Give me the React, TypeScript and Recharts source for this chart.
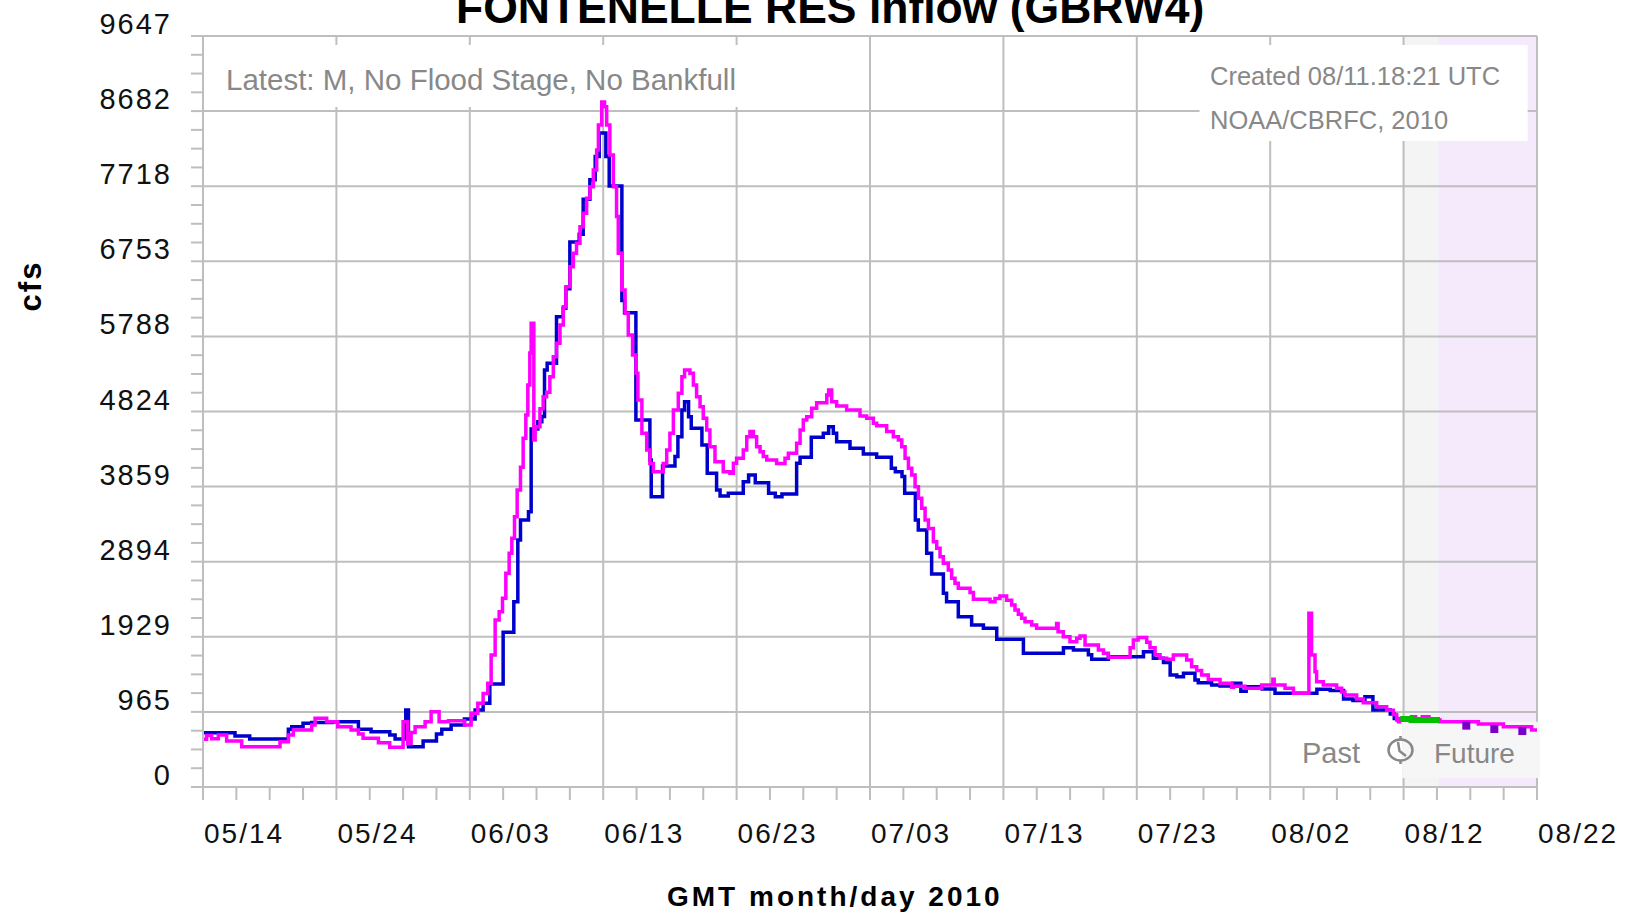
import React from 'react'
import { ComposedChart, Line, XAxis, YAxis, ReferenceArea, ReferenceLine } from 'recharts'

const W = 1625, H = 912
const gr = '#bebebe', ink = '#111', note = '#888', blue = '#0000cc', mag = '#ff00ff'
const font = "'Liberation Sans', Arial, Helvetica, sans-serif"
const margin = { top: 36, right: 88, bottom: 45, left: 63 }

// x = days since 05/14/2010 (GMT), y = inflow in cfs
const xTickLabels = ['05/14', '05/24', '06/03', '06/13', '06/23', '07/03', '07/13', '07/23', '08/02', '08/12', '08/22']
const yTickLabels = ['0', '965', '1929', '2894', '3859', '4824', '5788', '6753', '7718', '8682', '9647']
const Y_MAX = 9647
const X_MAX = 100
const NOW_DAY = 89.9      // past / future split
const FUTURE_DAY = 92.6   // start of the lavender forecast band

const observed: [number, number][] = [
  [0, 698], [2.4, 655], [3.5, 617], [6.4, 741], [6.65, 775], [7.5, 818], [8.15, 830], [9.7, 839],
  [11.65, 741], [12.6, 711], [14.0, 668], [14.4, 617], [15.2, 989], [15.4, 518], [16.5, 591],
  [17.5, 680], [17.9, 741], [18.6, 796], [19.6, 875], [20.4, 990], [21.0, 1075], [21.5, 1323],
  [22.5, 1987], [23.3, 2380], [23.6, 3173], [23.8, 3430], [24.4, 3537], [24.6, 4600], [25.1, 4693],
  [25.4, 4758], [25.6, 5357], [25.8, 5443], [26.5, 6042], [27.0, 6150], [27.2, 6400], [27.5, 7000],
  [28.2, 7100], [28.5, 7550], [29.0, 7800], [29.4, 8100], [29.7, 8400], [30.2, 8100], [30.45, 7720],
  [31.4, 6250], [31.6, 6093], [32.45, 4714], [33.5, 4200], [33.6, 3729], [34.45, 4124], [35.38, 4244],
  [35.6, 4500], [35.9, 4843], [36.1, 4950], [36.4, 4757], [36.6, 4607], [37.4, 4393], [37.8, 4029],
  [38.5, 3815], [38.76, 3738], [39.38, 3773], [40.5, 3922], [40.9, 4008], [41.4, 3909], [42.4, 3773],
  [42.9, 3730], [43.4, 3763], [44.5, 4158], [44.76, 4235], [45.6, 4492], [46.5, 4543], [46.9, 4629],
  [47.25, 4543], [47.5, 4436], [48.5, 4351], [49.5, 4278], [50.5, 4235], [51.6, 4094], [51.9, 4051],
  [52.4, 3990], [52.6, 3773], [53.4, 3430], [53.62, 3301], [54.25, 3002], [54.62, 2736], [55.5, 2488],
  [55.74, 2381], [56.62, 2188], [57.62, 2081], [58.5, 2038], [59.5, 1897], [61.5, 1717], [64.5, 1790],
  [65.25, 1760], [66.37, 1700], [66.62, 1640], [67.87, 1674], [70.5, 1738], [71.24, 1653], [72.0, 1598],
  [72.5, 1439], [73.0, 1417], [73.5, 1460], [74.36, 1375], [74.61, 1340], [75.61, 1310], [76.24, 1297],
  [77.2, 1332], [77.8, 1230], [78.2, 1289], [79.4, 1260], [80.36, 1203], [82.7, 1203], [83.5, 1255],
  [84.5, 1240], [85.5, 1130], [86.2, 1110], [87.1, 1160], [87.7, 989], [89.0, 938], [89.3, 880], [89.6, 880],
]

const simulated: [number, number][] = [
  [0, 612], [0.27, 660], [0.65, 620], [1.15, 668], [1.77, 591], [2.9, 518], [5.77, 582], [6.4, 668],
  [6.77, 732], [8.15, 796], [8.4, 882], [9.27, 839], [10.1, 775], [11.1, 732], [11.65, 680], [12.0, 625],
  [13.15, 570], [14.0, 510], [15.0, 839], [15.35, 560], [15.6, 700], [15.9, 775], [16.65, 839],
  [17.1, 968], [17.7, 839], [18.4, 852], [19.6, 796], [20.1, 946], [20.6, 1075], [21.0, 1200],
  [21.35, 1332], [21.6, 1696], [21.9, 2145], [22.2, 2252], [22.45, 2424], [22.7, 2745], [22.95, 3002],
  [23.15, 3195], [23.35, 3473], [23.55, 3815], [23.8, 4107], [24.0, 4479], [24.2, 4779], [24.35, 5164],
  [24.5, 5575], [24.6, 5957], [24.8, 4458], [24.9, 4629], [25.26, 4860], [25.5, 5014], [25.76, 5070],
  [26.0, 5271], [26.26, 5528], [26.5, 5700], [26.76, 5935], [27.01, 6170], [27.2, 6427], [27.51, 6684],
  [27.76, 6855], [28.0, 6985], [28.26, 7198], [28.51, 7370], [28.76, 7563], [29.0, 7712], [29.26, 7926],
  [29.51, 8183], [29.64, 8504], [29.89, 8800], [30.1, 8739], [30.26, 8504], [30.5, 8119], [30.76, 7712],
  [31.0, 7327], [31.13, 6855], [31.39, 6384], [31.64, 6085], [31.88, 5806], [32.2, 5550], [32.46, 5314],
  [32.6, 4971], [32.9, 4543], [33.26, 4329], [33.5, 4157], [33.76, 4051], [34.5, 4157], [34.76, 4329],
  [35.0, 4543], [35.26, 4843], [35.63, 5057], [35.9, 5271], [36.1, 5357], [36.5, 5314], [36.76, 5164],
  [37.0, 5014], [37.26, 4886], [37.5, 4736], [37.76, 4586], [38.0, 4372], [38.38, 4179], [39.0, 4051],
  [39.5, 4029], [39.76, 4158], [40.0, 4222], [40.5, 4329], [40.76, 4500], [41.0, 4565], [41.26, 4500],
  [41.5, 4372], [41.76, 4308], [42.0, 4244], [42.26, 4200], [43.0, 4157], [43.63, 4222], [43.88, 4286],
  [44.5, 4415], [44.76, 4586], [45.0, 4714], [45.26, 4757], [45.63, 4864], [46.0, 4937], [46.76, 5036],
  [46.9, 5100], [47.13, 4950], [47.5, 4894], [48.25, 4843], [49.25, 4766], [49.75, 4736], [50.25, 4672],
  [50.5, 4640], [51.25, 4565], [51.75, 4500], [52.13, 4457], [52.38, 4372], [52.63, 4222], [52.88, 4094],
  [53.13, 4008], [53.38, 3858], [53.63, 3708], [53.88, 3580], [54.13, 3430], [54.38, 3322], [54.75, 3151],
  [55.0, 3066], [55.25, 2959], [55.5, 2873], [55.87, 2788], [56.12, 2681], [56.37, 2617], [56.62, 2552],
  [57.5, 2500], [57.75, 2411], [59.0, 2380], [59.37, 2420], [59.74, 2454], [60.24, 2400], [60.62, 2338],
  [60.87, 2274], [61.12, 2220], [61.37, 2167], [61.62, 2124], [62.12, 2081], [62.49, 2038], [63.99, 2100],
  [64.1, 1995], [64.49, 1931], [64.99, 1867], [65.5, 1910], [65.74, 1940], [66.12, 1824], [67.12, 1760],
  [67.5, 1717], [67.87, 1666], [69.5, 1790], [69.74, 1888], [70.1, 1920], [70.74, 1860], [70.99, 1790],
  [71.37, 1700], [71.74, 1653], [72.24, 1640], [72.74, 1695], [73.74, 1630], [74.11, 1546], [74.49, 1495],
  [74.86, 1439], [75.36, 1380], [76.24, 1332], [77.12, 1281], [77.24, 1293], [78.11, 1267], [79.36, 1310],
  [80.2, 1383], [80.3, 1310], [81.11, 1267], [81.74, 1203], [82.9, 2231], [83.1, 1696], [83.36, 1481],
  [83.48, 1353], [83.98, 1310], [84.98, 1267], [85.36, 1220], [85.6, 1182], [86.48, 1130], [86.98, 1083],
  [87.98, 1032], [88.73, 986], [89.23, 932], [89.48, 839],
]

const forecast: [number, number][] = [
  [89.48, 839], [89.7, 880], [90.6, 903], [90.9, 860], [91.4, 903], [91.9, 860], [92.73, 839],
  [95.6, 809], [97.48, 775], [99.6, 732], [100, 732],
]
const forecastGreen: [number, number][] = [[89.75, 875], [90.6, 861], [92.73, 861]]
const forecastPts: [number, number][] = [[94.7, 788], [96.8, 745], [98.9, 719]]

const rows = (a: [number, number][]) => a.map(([d, v]) => ({ d, v }))
const majorDays = xTickLabels.map((_, i) => (X_MAX * i) / 10)
const majorVals = yTickLabels.map((_, i) => (Y_MAX * i) / 10)
const minorDays = Array.from({ length: 41 }, (_, i) => (X_MAX * i) / 40)
const minorVals = Array.from({ length: 41 }, (_, i) => (Y_MAX * i) / 40)

function YTick({ x, y, payload }: any) {
  const i = Math.round(payload.value / (Y_MAX / 40))
  if (i % 4 !== 0) return <g />
  return (
    <text x={x} y={y - 2} textAnchor="end" fontSize={29} letterSpacing={2} fill={ink} fontFamily={font}>
      {yTickLabels[i / 4]}
    </text>
  )
}

function XTick({ x, y, payload }: any) {
  const i = Math.round(payload.value / (X_MAX / 40))
  if (i % 4 !== 0) return <g />
  return (
    <text x={x + 1} y={y + 41} textAnchor="start" fontSize={28} letterSpacing={2} fill={ink} fontFamily={font}>
      {xTickLabels[i / 4]}
    </text>
  )
}

const layer: React.CSSProperties = { position: 'absolute', left: 0, top: 0 }
const noLine = { dot: false, activeDot: false, isAnimationActive: false } as const

// same axes for every stacked layer so the plot boxes line up exactly
function axes(show: boolean) {
  const line = show ? { stroke: gr, strokeWidth: 2 } : false
  return [
    <XAxis key="x" type="number" dataKey="d" domain={[0, X_MAX]} ticks={minorDays} interval={0}
      height={80} tickSize={13} tickMargin={2} tick={show ? <XTick /> : false}
      axisLine={line} tickLine={line} />,
    <YAxis key="y" type="number" dataKey="v" domain={[0, Y_MAX]} ticks={minorVals} interval={0}
      width={140} tickSize={12} tickMargin={19} tick={show ? <YTick /> : false}
      axisLine={line} tickLine={line} />,
  ]
}

export default function App() {
  const sim = rows(simulated)
  return (
    <div style={{ position: 'absolute', left: 0, top: 0, width: W, height: H, background: '#fff' }}>
      {/* past/future shading */}
      <div style={layer}>
        <ComposedChart width={W} height={H} data={sim} margin={margin}>
          {axes(false)}
          <ReferenceArea x1={NOW_DAY} x2={FUTURE_DAY} fill="#f4f4f4" fillOpacity={1} stroke="none" />
          <ReferenceArea x1={FUTURE_DAY} x2={X_MAX} fill="#f5e9fc" fillOpacity={1} stroke="none" />
          <Line dataKey="v" stroke="none" {...noLine} />
        </ComposedChart>
      </div>

      {/* grid */}
      <div style={layer}>
        <ComposedChart width={W} height={H} data={sim} margin={margin}>
          {axes(false)}
          {majorVals.map(v => <ReferenceLine key={'h' + v} y={v} stroke={gr} strokeWidth={2} />)}
          {majorDays.map(d => <ReferenceLine key={'v' + d} x={d} stroke={gr} strokeWidth={2} />)}
          <Line dataKey="v" stroke="none" {...noLine} />
        </ComposedChart>
      </div>

      {/* annotation boxes, axes and series */}
      <div style={layer}>
        <ComposedChart width={W} height={H} margin={margin}>
          {axes(true)}
          <ReferenceArea x1={0.4} x2={40.8} y1={8735} y2={9532} fill="#fff" fillOpacity={1} stroke="none" />
          <ReferenceArea x1={74.7} x2={99.3} y1={8298} y2={9532} fill="#fff" fillOpacity={1} stroke="none" />
          <ReferenceArea x1={82} x2={NOW_DAY} y1={116} y2={839} fill="#fff" fillOpacity={1} stroke="none" />
          <ReferenceArea x1={NOW_DAY} x2={100.22} y1={116} y2={839} fill="#f6f6f6" fillOpacity={1} stroke="none" ifOverflow="visible" />

          <Line data={rows(observed)} dataKey="v" type="stepAfter" stroke={blue} strokeWidth={3.5} {...noLine} />
          <Line data={sim} dataKey="v" type="stepAfter" stroke={mag} strokeWidth={3.5} {...noLine} />
          <Line data={rows(forecast)} dataKey="v" type="stepAfter" stroke={mag} strokeWidth={3.5} {...noLine} />
          <Line data={rows(forecastGreen)} dataKey="v" type="stepAfter" stroke="#00c000" strokeWidth={6} {...noLine} />
          <Line data={rows(forecastPts)} dataKey="v" stroke="none" activeDot={false} isAnimationActive={false}
            dot={(p: any) => <rect key={p.index} x={p.cx - 4} y={p.cy - 4} width={8} height={8} fill="#7a00c8" />} />
        </ComposedChart>
      </div>

      {/* titles and notes */}
      <svg width={W} height={H} style={{ ...layer, pointerEvents: 'none' }} fontFamily={font}>
        <text x={456} y={23} fontSize={44.5} fontWeight="bold" fill="#000">FONTENELLE RES inflow (GBRW4)</text>
        <text x={41} y={286} transform="rotate(-90 41 286)" textAnchor="middle" fontSize={31} fontWeight="bold" letterSpacing={2} fill="#000">cfs</text>
        <text x={667} y={906} fontSize={28} fontWeight="bold" letterSpacing={3} fill="#000">GMT month/day 2010</text>
        <text x={226} y={90} fontSize={29.5} fill={note}>Latest: M, No Flood Stage, No Bankfull</text>
        <text x={1210} y={85} fontSize={25.5} fill={note}>Created 08/11.18:21 UTC</text>
        <text x={1210} y={129} fontSize={25.5} fill={note}>NOAA/CBRFC, 2010</text>
        <text x={1302} y={763} fontSize={29} fill={note}>Past</text>
        <g stroke={note} strokeWidth={2.5} fill="none">
          <ellipse cx={1400.5} cy={750} rx={12} ry={10.5} />
          <line x1={1400.5} y1={736} x2={1400.5} y2={739} />
          <line x1={1400.5} y1={761} x2={1400.5} y2={764} />
          <polyline points="1398,742 1399.5,751 1406,756" />
        </g>
        <text x={1434} y={763} fontSize={28} fill={note}>Future</text>
      </svg>
    </div>
  )
}
